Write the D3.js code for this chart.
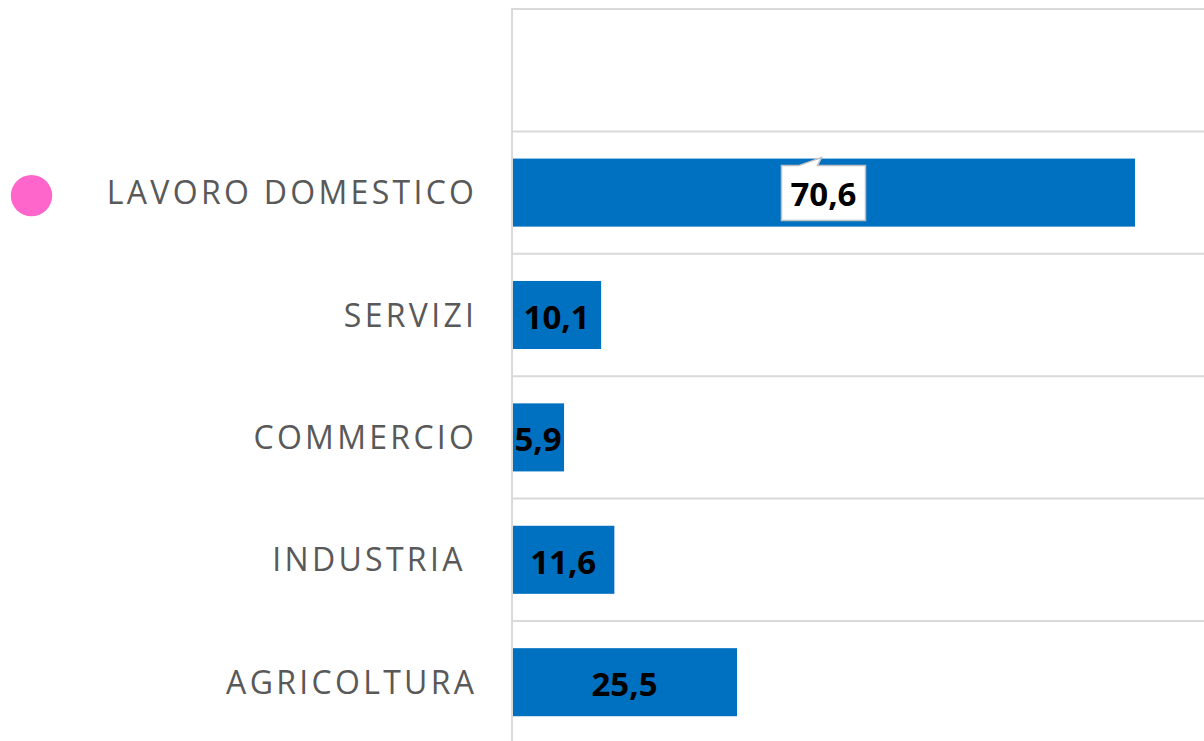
<!DOCTYPE html>
<html>
<head>
<meta charset="utf-8">
<script src="https://cdn.jsdelivr.net/npm/d3@7"></script>
<style>
  html, body { margin: 0; padding: 0; background: #fff; overflow: hidden; }
  svg { display: block; }
</style>
</head>
<body>
<svg id="chart" width="1204" height="741"></svg>
<script>
// Sectors (top row of the plot is left empty) and their values
const categories = ["", "LAVORO DOMESTICO", "SERVIZI", "COMMERCIO", "INDUSTRIA ", "AGRICOLTURA"];
const sectors = ["LAVORO DOMESTICO", "SERVIZI", "COMMERCIO", "INDUSTRIA ", "AGRICOLTURA"];
const values = [70.6, 10.1, 5.9, 11.6, 25.5];
const valueLabels = ["70,6", "10,1", "5,9", "11,6", "25,5"];
const highlighted = "LAVORO DOMESTICO";

const svg = d3.select("#chart");
const W = 1204;
const plotLeft = 512, plotTop = 9;
const step = 122.4;

const x = d3.scaleLinear().domain([0, 80]).range([plotLeft, plotLeft + 80 * 8.824]);
const y = d3.scaleBand()
  .domain(categories)
  .range([plotTop, plotTop + step * categories.length])
  .paddingInner(0.444)
  .paddingOuter(0.222);

const grid = "#d9d9d9";

// horizontal gridlines at the band boundaries
const bounds = d3.range(categories.length + 1).map(i => plotTop + i * y.step());
svg.append("g").selectAll("line").data(bounds).join("line")
  .attr("x1", plotLeft).attr("x2", W + 5)
  .attr("y1", d => d).attr("y2", d => d)
  .attr("stroke", grid).attr("stroke-width", 2);

// bars
svg.append("g").selectAll("rect").data(sectors).join("rect")
  .attr("x", x(0))
  .attr("y", d => y(d))
  .attr("width", (d, i) => x(values[i]) - x(0))
  .attr("height", y.bandwidth())
  .attr("fill", "#0070C0");

// category axis line
svg.append("line")
  .attr("x1", plotLeft).attr("x2", plotLeft)
  .attr("y1", plotTop - 1).attr("y2", 745)
  .attr("stroke", grid).attr("stroke-width", 2);

// category labels
svg.append("g").selectAll("text").data(sectors).join("text")
  .attr("x", 474 + 3.3)
  .attr("y", d => y(d) + y.bandwidth() / 2)
  .attr("dy", "0.36em")
  .attr("text-anchor", "end")
  .attr("font-family", "'Open Sans', sans-serif")
  .attr("font-size", 32)
  .attr("letter-spacing", 3.3)
  .attr("fill", "#595959")
  .style("white-space", "pre")
  .text(d => d);

// marker next to the highlighted sector
svg.append("circle")
  .attr("cx", 31.5)
  .attr("cy", y(highlighted) + y.bandwidth() / 2 + 3)
  .attr("r", 20.7)
  .attr("fill", "#FF66CC");

// value labels, centred in each bar
const labels = svg.append("g");
sectors.forEach((s, i) => {
  const cx = (x(0) + x(values[i])) / 2;
  const cy = y(s) + y.bandwidth() / 2;
  if (s === highlighted) {
    const bw = 84, bh = 55;
    const bx = cx - bw / 2, by = cy - bh / 2 + 0.5;
    labels.append("path")
      .attr("d", `M${bx},${by} L${bx + 17},${by} L${bx + 40},${by - 8} L${bx + 36},${by} L${bx + bw},${by} L${bx + bw},${by + bh} L${bx},${by + bh} Z`)
      .attr("fill", "#fff")
      .attr("stroke", "#bfbfbf")
      .attr("stroke-width", 1.5);
  }
  labels.append("text")
    .attr("x", cx)
    .attr("y", cy + 2)
    .attr("dy", "0.36em")
    .attr("text-anchor", "middle")
    .attr("font-family", "'Open Sans', sans-serif")
    .attr("font-weight", "bold")
    .attr("font-size", 33)
    .attr("fill", "#000")
    .text(valueLabels[i]);
});
</script>
</body>
</html>
